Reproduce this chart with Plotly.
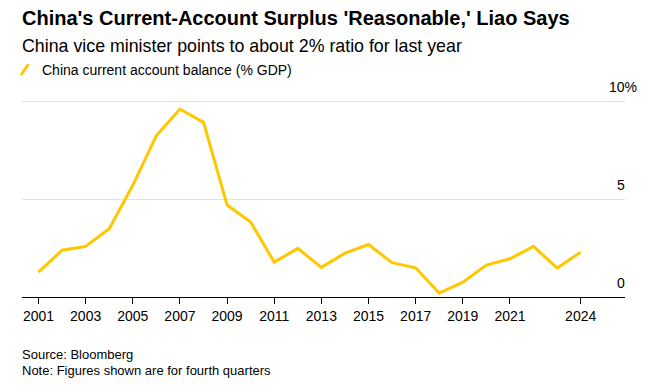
import plotly.graph_objects as go

years = list(range(2001, 2025))
balance = [1.27, 2.39, 2.58, 3.48, 5.70, 8.23, 9.59, 8.91, 4.69, 3.82,
           1.78, 2.48, 1.51, 2.24, 2.68, 1.75, 1.49, 0.20, 0.76, 1.63,
           1.95, 2.58, 1.48, 2.29]
tick_years = [2001, 2003, 2005, 2007, 2009, 2011, 2013, 2015, 2017, 2019, 2021, 2024]
tick_labels = [str(y) for y in tick_years]
y_ticks = [0, 5, 10]
y_tick_labels = ["0", "5", "10%"]

title = "China's Current-Account Surplus 'Reasonable,' Liao Says"
subtitle = "China vice minister points to about 2% ratio for last year"
legend_label = "China current account balance (% GDP)"
source = "Source: Bloomberg"
note = "Note: Figures shown are for fourth quarters"

YELLOW = "#FFC700"
FONT = "Liberation Sans, Arial, sans-serif"
W, H = 650, 392
OFF = 8  # page body margin
# plot area in page pixels: x 22..625, y 95..297
ML = 22 - OFF
MR = W - (625 - OFF)
MT = 95 - OFF
MB = H - (297 - OFF)
plot_w = W - ML - MR
plot_h = H - MT - MB
y_top = 10 * plot_h / (297 - 101)

fig = go.Figure()
fig.add_trace(go.Scatter(x=years, y=balance, mode="lines",
                         line=dict(color=YELLOW, width=3),
                         cliponaxis=False, showlegend=False,
                         hoverinfo="skip"))

fig.update_layout(
    width=W, height=H,
    margin=dict(l=ML, r=MR, t=MT, b=MB),
    paper_bgcolor="white", plot_bgcolor="white",
    font=dict(family=FONT, color="#000000"),
    showlegend=False,
    xaxis=dict(range=[2000.30, 2025.88], tickmode="array",
               tickvals=tick_years, ticktext=tick_labels,
               ticks="outside", ticklen=6, tickwidth=1, tickcolor="#000000",
               showline=True, linecolor="#000000", linewidth=1,
               showgrid=False, zeroline=False,
               tickfont=dict(size=14, color="#000000", family=FONT)),
    yaxis=dict(range=[0, y_top], tickmode="array", tickvals=y_ticks,
               showticklabels=False, showgrid=True, gridcolor="#e1e1e1",
               gridwidth=1, zeroline=False, showline=False, fixedrange=True),
)


def px_x(px):
    return (px - OFF - ML) / plot_w


def px_y(py):
    return (H - MB - (py - OFF)) / plot_h


# Y tick labels: numbers right-aligned at page x=626, "%" hanging beyond
for v, t in zip(y_ticks, y_tick_labels):
    shift = 12 if t.endswith("%") else 0
    fig.add_annotation(x=px_x(627), y=v, xref="paper", yref="y", text=t,
                       xanchor="right", yanchor="bottom", yshift=4, xshift=shift,
                       showarrow=False, font=dict(size=14, color="#000000"))

# Title and subtitle
fig.add_annotation(x=px_x(20), y=px_y(18), xref="paper", yref="paper",
                   text="<b>" + title + "</b>", xanchor="left", yanchor="middle",
                   showarrow=False, font=dict(size=20, color="#000000"))
fig.add_annotation(x=px_x(20), y=px_y(46), xref="paper", yref="paper",
                   text=subtitle, xanchor="left", yanchor="middle",
                   showarrow=False, font=dict(size=17.8, color="#000000"))

# Legend: slash + label
fig.add_shape(type="line", xref="paper", yref="paper",
              x0=px_x(21), y0=px_y(75), x1=px_x(28.5), y1=px_y(64),
              line=dict(color=YELLOW, width=3))
fig.add_annotation(x=px_x(40), y=px_y(70), xref="paper", yref="paper",
                   text=legend_label, xanchor="left", yanchor="middle",
                   showarrow=False, font=dict(size=14, color="#000000"))

# Footnotes
fig.add_annotation(x=px_x(20), y=px_y(354), xref="paper", yref="paper",
                   text=source, xanchor="left", yanchor="middle",
                   showarrow=False, font=dict(size=13, color="#000000"))
fig.add_annotation(x=px_x(20), y=px_y(370), xref="paper", yref="paper",
                   text=note, xanchor="left", yanchor="middle",
                   showarrow=False, font=dict(size=13, color="#000000"))

fig.write_html("out.html")
